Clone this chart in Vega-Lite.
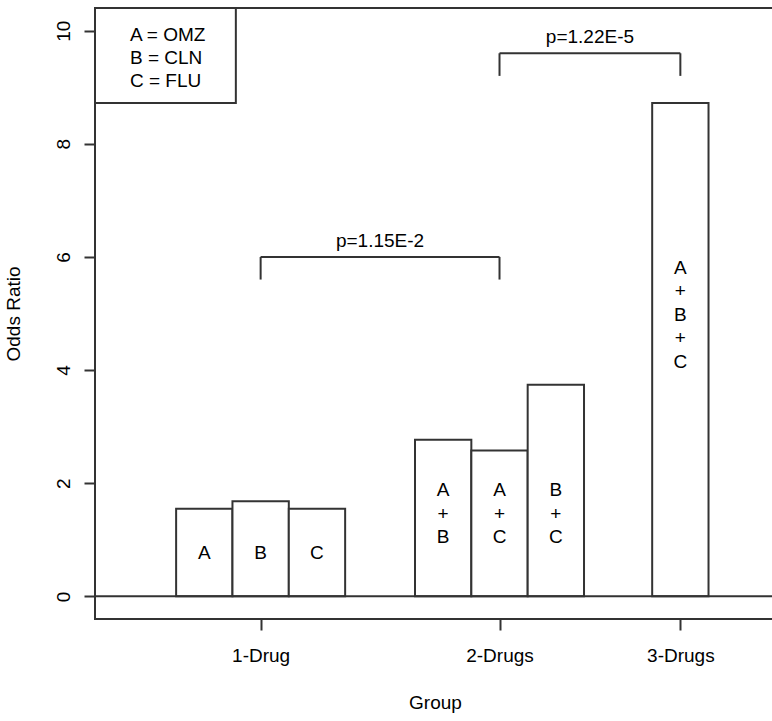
{
  "$schema": "https://vega.github.io/schema/vega-lite/v6.json",
  "autosize": "none",
  "padding": {"left": 95, "top": 8, "right": 0, "bottom": 102},
  "width": 680,
  "height": 611,
  "background": "white",
  "config": {
    "view": {"stroke": "#333", "strokeWidth": 2},
    "font": "Liberation Sans",
    "axis": {
      "labelFont": "Liberation Sans",
      "labelFontSize": 19,
      "labelColor": "#000",
      "titleFont": "Liberation Sans",
      "titleFontSize": 19,
      "titleFontWeight": "normal",
      "titleColor": "#000",
      "tickColor": "#333",
      "tickWidth": 2,
      "tickSize": 11,
      "domain": false,
      "grid": false
    }
  },
  "datasets": {
    "bars": [
      {"drug": "A", "group": "1-Drug", "left": 1.44, "right": 2.44, "odds": 1.55},
      {"drug": "B", "group": "1-Drug", "left": 2.44, "right": 3.44, "odds": 1.68},
      {"drug": "C", "group": "1-Drug", "left": 3.44, "right": 4.44, "odds": 1.55},
      {"drug": "A+B", "group": "2-Drugs", "left": 5.68, "right": 6.68, "odds": 2.77},
      {"drug": "A+C", "group": "2-Drugs", "left": 6.68, "right": 7.68, "odds": 2.58},
      {"drug": "B+C", "group": "2-Drugs", "left": 7.68, "right": 8.68, "odds": 3.74},
      {"drug": "A+B+C", "group": "3-Drugs", "left": 9.89, "right": 10.89, "odds": 8.72}
    ],
    "labels": [
      {"text": "A", "x": 1.94, "y": 0.77},
      {"text": "B", "x": 2.94, "y": 0.77},
      {"text": "C", "x": 3.94, "y": 0.77},
      {"text": "A\n+\nB", "x": 6.18, "y": 1.88},
      {"text": "A\n+\nC", "x": 7.18, "y": 1.88},
      {"text": "B\n+\nC", "x": 8.18, "y": 1.88},
      {"text": "A\n+\nB\n+\nC", "x": 10.39, "y": 5.81}
    ],
    "brackets": [
      {"from": 2.94, "to": 7.18, "top": 6.0, "bottom": 5.6, "p": "p=1.15E-2", "mid": 5.06, "textY": 6.29},
      {"from": 7.18, "to": 10.39, "top": 9.6, "bottom": 9.2, "p": "p=1.22E-5", "mid": 8.785, "textY": 9.88}
    ]
  },
  "layer": [
    {
      "data": {"name": "bars"},
      "mark": {"type": "rect", "fill": "white", "stroke": "#333", "strokeWidth": 2},
      "encoding": {
        "x": {
          "field": "left",
          "type": "quantitative",
          "scale": {"domain": [0, 12.07], "nice": false, "zero": false},
          "axis": {
            "values": [2.94, 7.18, 10.39],
            "labelExpr": "datum.value < 5 ? '1-Drug' : datum.value < 9 ? '2-Drugs' : '3-Drugs'",
            "labelAngle": 0,
            "labelAlign": "center",
            "labelBaseline": "top",
            "labelPadding": 16,
            "labelFlush": false,
            "labelOverlap": false,
            "title": "Group",
            "titlePadding": 28
          }
        },
        "x2": {"field": "right"},
        "y": {
          "field": "odds",
          "type": "quantitative",
          "scale": {"domain": [-0.4, 10.4], "nice": false, "zero": false},
          "axis": {
            "values": [0, 2, 4, 6, 8, 10],
            "format": "d",
            "labelAngle": 270,
            "labelAlign": "center",
            "labelBaseline": "alphabetic",
            "labelPadding": 15,
            "title": "Odds Ratio",
            "titlePadding": 31
          }
        },
        "y2": {"datum": 0}
      }
    },
    {
      "data": {"values": [{}]},
      "mark": {"type": "rule", "stroke": "#333", "strokeWidth": 2},
      "encoding": {"y": {"datum": 0, "type": "quantitative"}}
    },
    {
      "data": {"name": "labels"},
      "mark": {"type": "text", "fontSize": 19, "color": "#000", "baseline": "middle", "align": "center", "lineBreak": "\n", "lineHeight": 23.5},
      "encoding": {
        "x": {"field": "x", "type": "quantitative"},
        "y": {"field": "y", "type": "quantitative"},
        "text": {"field": "text"}
      }
    },
    {
      "data": {"name": "brackets"},
      "mark": {"type": "rule", "stroke": "#333", "strokeWidth": 2},
      "encoding": {
        "x": {"field": "from", "type": "quantitative"},
        "x2": {"field": "to"},
        "y": {"field": "top", "type": "quantitative"}
      }
    },
    {
      "data": {"name": "brackets"},
      "mark": {"type": "rule", "stroke": "#333", "strokeWidth": 2},
      "encoding": {
        "x": {"field": "from", "type": "quantitative"},
        "y": {"field": "bottom", "type": "quantitative"},
        "y2": {"field": "top"}
      }
    },
    {
      "data": {"name": "brackets"},
      "mark": {"type": "rule", "stroke": "#333", "strokeWidth": 2},
      "encoding": {
        "x": {"field": "to", "type": "quantitative"},
        "y": {"field": "bottom", "type": "quantitative"},
        "y2": {"field": "top"}
      }
    },
    {
      "data": {"name": "brackets"},
      "mark": {"type": "text", "fontSize": 19, "color": "#000", "baseline": "middle", "align": "center"},
      "encoding": {
        "x": {"field": "mid", "type": "quantitative"},
        "y": {"field": "textY", "type": "quantitative"},
        "text": {"field": "p"}
      }
    },
    {
      "data": {"values": [{"legend": "A = OMZ\nB = CLN\nC = FLU"}]},
      "mark": {"type": "rect", "fill": "white", "stroke": "#333", "strokeWidth": 2},
      "encoding": {
        "x": {"datum": 0, "type": "quantitative"},
        "x2": {"datum": 2.5},
        "y": {"datum": 8.72, "type": "quantitative"},
        "y2": {"datum": 10.4}
      }
    },
    {
      "data": {"values": [{"legend": "A = OMZ\nB = CLN\nC = FLU"}]},
      "mark": {"type": "text", "fontSize": 19, "color": "#000", "baseline": "middle", "align": "left", "lineBreak": "\n", "lineHeight": 23},
      "encoding": {
        "x": {"datum": 0.62, "type": "quantitative"},
        "y": {"datum": 9.92, "type": "quantitative"},
        "text": {"field": "legend"}
      }
    }
  ]
}
